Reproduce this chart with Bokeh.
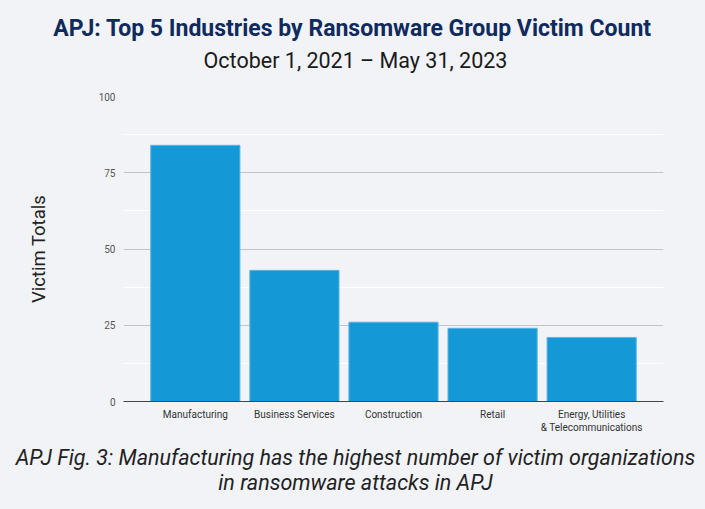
from bokeh.plotting import figure
from bokeh.layouts import column
from bokeh.models import ColumnDataSource, FactorRange, SingleIntervalTicker, Range1d
from bokeh.core.properties import value
from bokeh.embed import file_html
from bokeh.resources import INLINE

industries = ["Manufacturing", "Business Services", "Construction", "Retail",
              "Energy, Utilities\n& Telecommunications"]
victims = [84, 43, 26, 24, 21]

title_text = "APJ: Top 5 Industries by Ransomware Group Victim Count"
subtitle_text = "October 1, 2021 \u2013 May 31, 2023"
caption_lines = ["APJ Fig. 3: Manufacturing has the highest number of victim organizations",
                 "in ransomware attacks in APJ"]

BG = "#f2f3f7"
W = 705


def text_panel(h):
    f = figure(width=W, height=h, output_backend="svg", toolbar_location=None,
               x_range=Range1d(0, W), y_range=Range1d(h, 0),
               background_fill_color=BG, border_fill_color=BG, outline_line_color=None,
               min_border=0, frame_align=False)
    f.axis.visible = False
    f.grid.visible = False
    return f


top = text_panel(80)
top.text(x=[352], y=[28], text=[title_text], text_align="center", text_baseline="middle",
         text_font=value("Roboto"), text_font_size="23px", text_font_style="bold", text_color="#0f2a5c")
top.text(x=[355], y=[60], text=[subtitle_text], text_align="center", text_baseline="middle",
         text_font=value("Roboto"), text_font_size="21.5px", text_font_style="normal", text_color="#1a1a1a")

src = ColumnDataSource(dict(x=industries, y=victims))
p = figure(width=W, height=355, output_backend="svg", toolbar_location=None,
           x_range=FactorRange(factors=industries, range_padding=0.225, range_padding_units="absolute"),
           y_range=Range1d(0, 100), frame_align=False,
           background_fill_color=BG, border_fill_color=BG, outline_line_color=None,
           min_border_left=123, min_border_right=42, min_border_top=16, min_border_bottom=34)

p.vbar(x="x", top="y", width=0.9, source=src, fill_color="#1598d6", line_color="#5bb4e3", line_width=1)

p.yaxis.ticker = SingleIntervalTicker(interval=25, num_minor_ticks=2)
p.yaxis.axis_line_color = None
p.yaxis.major_tick_line_color = None
p.yaxis.minor_tick_line_color = None
p.yaxis.major_tick_out = 0
p.yaxis.minor_tick_out = 0
p.yaxis.major_label_standoff = 8
p.yaxis.major_label_text_font = "Roboto"
p.yaxis.major_label_text_font_size = "10px"
p.yaxis.major_label_text_color = "#555555"
p.yaxis.axis_label = "Victim Totals"
p.yaxis.axis_label_text_font = "Roboto"
p.yaxis.axis_label_text_font_size = "18.5px"
p.yaxis.axis_label_text_font_style = "normal"
p.yaxis.axis_label_text_color = "#222222"
p.yaxis.axis_label_standoff = 46

p.xaxis.axis_line_color = "#444444"
p.xaxis.major_tick_line_color = None
p.xaxis.minor_tick_line_color = None
p.xaxis.major_tick_out = 0
p.xaxis.minor_tick_out = 0
p.xaxis.major_label_text_font = "Roboto"
p.xaxis.major_label_text_font_size = "10px"
p.xaxis.major_label_text_color = "#333333"
p.xaxis.major_label_standoff = 7

p.xgrid.grid_line_color = None
p.ygrid.grid_line_color = "#c4c4c8"
p.ygrid.minor_grid_line_color = "#ffffff"

bottom = text_panel(74)
bottom.text(x=[355, 355], y=[22, 47], text=caption_lines, text_align="center", text_baseline="middle",
            text_font=value("Roboto"), text_font_size="21.5px", text_font_style="italic", text_color="#222222")

layout = column(top, p, bottom, spacing=0)
html = file_html(layout, INLINE)
html = html.replace("<body>", "<body style=\"background:%s\">" % BG)
open("out.html", "w").write(html)
